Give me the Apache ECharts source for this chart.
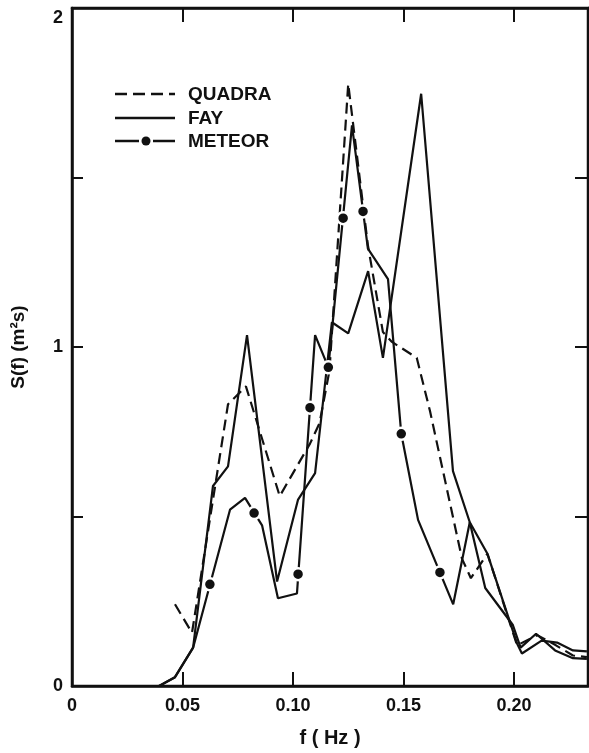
<!DOCTYPE html>
<html>
<head>
<meta charset="utf-8">
<script src="https://cdn.jsdelivr.net/npm/echarts@6/dist/echarts.min.js"></script>
<style>
html,body{margin:0;padding:0;background:#fff;}
#chart{width:589px;height:753px;}
</style>
</head>
<body>
<div id="chart"></div>
<script>
// ---- data ----
var quadraFreq = [0.0466,0.0543,0.0706,0.0787,0.0940,0.1077,0.1120,0.1165,0.1250,0.1339,0.1407,0.1448,0.1560,0.1620,0.1765,0.1805,0.1880,0.2014,0.2105,0.2190,0.2267,0.2330];
var quadraS    = [0.241,0.157,0.831,0.884,0.560,0.715,0.775,0.930,1.776,1.300,1.044,1.015,0.968,0.811,0.375,0.318,0.390,0.120,0.150,0.120,0.090,0.085];

var fayFreq = [0.0394,0.0466,0.0548,0.0638,0.0706,0.0792,0.0928,0.1023,0.1100,0.1176,0.1250,0.1340,0.1407,0.1580,0.1724,0.1800,0.1870,0.1995,0.2030,0.2100,0.2186,0.2267,0.2330];
var fayS    = [0.000,0.026,0.113,0.590,0.648,1.035,0.308,0.550,0.628,1.073,1.040,1.224,0.968,1.747,0.634,0.483,0.289,0.180,0.113,0.154,0.105,0.082,0.080];

var meteorFreq = [0.0394,0.0466,0.0548,0.0715,0.0783,0.0860,0.0932,0.1018,0.1100,0.1160,0.1267,0.1339,0.1430,0.1490,0.1566,0.1725,0.1800,0.1880,0.2014,0.2036,0.2125,0.2195,0.2267,0.2330];
var meteorS    = [0.000,0.026,0.113,0.520,0.555,0.474,0.259,0.273,1.035,0.940,1.654,1.290,1.200,0.744,0.490,0.241,0.483,0.390,0.125,0.096,0.134,0.128,0.105,0.102];

var meteorDotFreq = [0.0624,0.0824,0.1023,0.1077,0.1160,0.1227,0.1317,0.1490,0.1665];
var meteorDotS    = [0.300,0.510,0.330,0.821,0.940,1.380,1.400,0.744,0.335];

var xTickLabels = ['0','0.05','0.10','0.15','0.20'];
var yTickLabels = ['0','1','2'];
var seriesNames = ['QUADRA','FAY','METEOR'];

function pairs(a,b){ var r=[]; for(var i=0;i<a.length;i++) r.push([a[i],b[i]]); return r; }

var ink = '#111';
var fontFam = '"Liberation Sans", Arial, sans-serif';

function xLabel(v){
  var idx = Math.round(v/0.05);
  if (Math.abs(v - idx*0.05) > 1e-6 || idx >= xTickLabels.length) return '';
  return xTickLabels[idx];
}
function yLabel(v){
  if (Math.abs(v - Math.round(v)) > 1e-6) return '';
  var i = Math.round(v);
  if (i >= yTickLabels.length) return '';
  return i === yTickLabels.length - 1 ? '{t|' + yTickLabels[i] + '}' : yTickLabels[i];
}

var chart = echarts.init(document.getElementById('chart'), null, {renderer:'canvas'});
var axisLine = {show:true, onZero:false, lineStyle:{color:ink, width:2.5}};
var option = {
  backgroundColor:'#fff',
  animation:false,
  grid:{left:72, right:1, top:8, bottom:57, show:true, borderColor:ink, borderWidth:2.5},
  xAxis:[{
    type:'value', min:0, max:0.2335, interval:0.05,
    axisLine:axisLine, splitLine:{show:false},
    axisTick:{show:true, inside:true, length:14, lineStyle:{color:ink,width:2}},
    axisLabel:{formatter:xLabel, color:ink, fontSize:18, fontWeight:'bold', fontFamily:fontFam, margin:11, showMaxLabel:false},
    name:'f ( Hz )', nameLocation:'middle', nameGap:42,
    nameTextStyle:{color:ink, fontSize:20, fontWeight:'bold', fontFamily:fontFam}
  },{
    type:'value', position:'top', min:0, max:0.2335, interval:0.05,
    axisLine:axisLine, splitLine:{show:false}, axisLabel:{show:false},
    axisTick:{show:true, inside:true, length:14, lineStyle:{color:ink,width:2}}
  }],
  yAxis:[{
    type:'value', min:0, max:2, interval:0.5,
    axisLine:axisLine, splitLine:{show:false},
    axisTick:{show:true, inside:true, length:11, lineStyle:{color:ink,width:2}},
    axisLabel:{formatter:yLabel, color:ink, fontSize:18, fontWeight:'bold', fontFamily:fontFam, margin:9,
      rich:{t:{fontSize:18, fontWeight:'bold', fontFamily:fontFam, color:ink, padding:[20,0,0,0]}}},
    name:'S(f) (m²s)', nameLocation:'middle', nameGap:44,
    nameTextStyle:{color:ink, fontSize:19, fontWeight:'bold', fontFamily:fontFam}
  },{
    type:'value', position:'right', min:0, max:2, interval:0.5,
    axisLine:axisLine, splitLine:{show:false}, axisLabel:{show:false},
    axisTick:{show:true, inside:true, length:13, lineStyle:{color:ink,width:2}}
  }],
  series:[
    {name:seriesNames[0], type:'line', data:pairs(quadraFreq,quadraS), showSymbol:false, symbol:'none',
     lineStyle:{color:ink, width:2.2, type:[11,6]}, z:3},
    {name:seriesNames[1], type:'line', data:pairs(fayFreq,fayS), showSymbol:false, symbol:'none',
     lineStyle:{color:ink, width:2.2}, z:3},
    {name:seriesNames[2], type:'line', data:pairs(meteorFreq,meteorS), showSymbol:false, symbol:'none',
     lineStyle:{color:ink, width:2.2}, z:3},
    {name:seriesNames[2]+' dots', type:'scatter', data:pairs(meteorDotFreq,meteorDotS),
     symbol:'circle', symbolSize:12, itemStyle:{color:ink, opacity:1, borderColor:'#fff', borderWidth:2.5}, z:5}
  ],
  graphic:[
    {type:'line', shape:{x1:115,y1:94,x2:175,y2:94}, style:{stroke:ink, lineWidth:2.5, lineDash:[12,6]}},
    {type:'text', left:188, top:85, style:{text:seriesNames[0], fill:ink, font:'bold 19px '+fontFam}},
    {type:'line', shape:{x1:115,y1:118,x2:175,y2:118}, style:{stroke:ink, lineWidth:2.5}},
    {type:'text', left:188, top:109, style:{text:seriesNames[1], fill:ink, font:'bold 19px '+fontFam}},
    {type:'line', shape:{x1:115,y1:141,x2:139,y2:141}, style:{stroke:ink, lineWidth:2.5}},
    {type:'circle', shape:{cx:146,cy:141,r:4.5}, style:{fill:ink}},
    {type:'line', shape:{x1:153,y1:141,x2:175,y2:141}, style:{stroke:ink, lineWidth:2.5}},
    {type:'text', left:188, top:132, style:{text:seriesNames[2], fill:ink, font:'bold 19px '+fontFam}}
  ]
};
chart.setOption(option);
</script>
</body>
</html>
